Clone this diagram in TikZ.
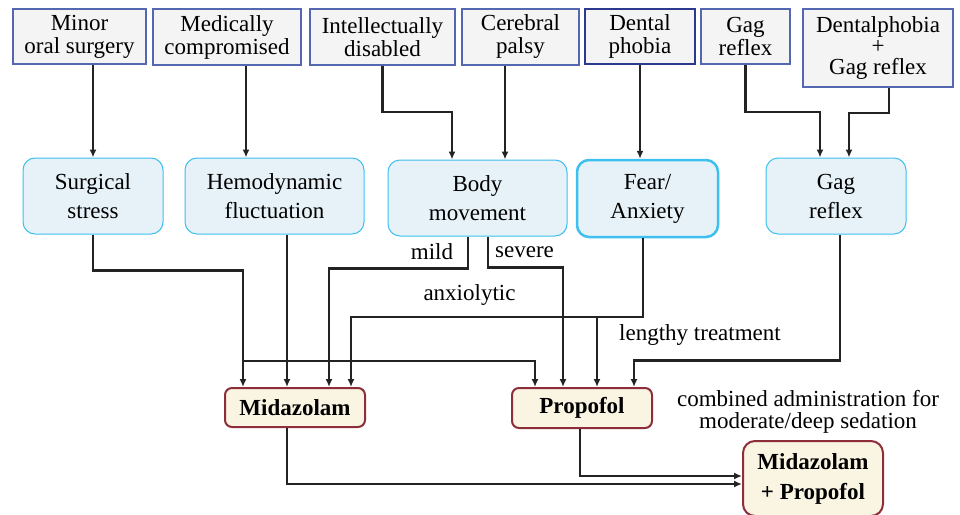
\documentclass[tikz,border=0pt]{standalone}
\usepackage{fontspec}
\setmainfont{LiberationSerif}[Extension=.ttf,UprightFont=*-Regular,BoldFont=*-Bold,ItalicFont=*-Italic]
\usetikzlibrary{positioning}
\usetikzlibrary{arrows.meta}

\definecolor{topfill}{HTML}{F4F4F4}
\definecolor{topline}{HTML}{5567B0}
\definecolor{navy}{HTML}{2B3A8F}
\definecolor{midfill}{HTML}{E6F2F7}
\definecolor{midline}{HTML}{3DBFEF}
\definecolor{drugfill}{HTML}{FAF4E2}
\definecolor{drugline}{HTML}{8E2E3A}
\definecolor{wire}{HTML}{232323}

\begin{document}
\begin{tikzpicture}[x=1pt,y=-1pt,
	font=\fontsize{23}{23}\selectfont,
	cause/.style={draw=topline,fill=topfill,line width=1.2pt,align=center,inner sep=0pt},
	problem/.style={draw=midline,fill=midfill,line width=1pt,rounded corners=12pt,align=center,inner sep=0pt,font=\fontsize{23}{29}\selectfont},
	drug/.style={draw=drugline,fill=drugfill,line width=2pt,rounded corners=7pt,align=center,inner sep=0pt,font=\fontsize{23}{30}\selectfont\bfseries},
	link/.style={line width=2.1pt,draw=wire},
	arr/.style={link,-{Latex[length=8pt,width=7pt]}}]
	\useasboundingbox (0,0) rectangle (960,514);
	% indications
	\node[cause,minimum width=133pt,minimum height=55pt] (minor) at (79.5,36.5) {Minor\\oral surgery};
	\node[cause,minimum width=148pt,minimum height=56pt] (medic) at (227,37) {Medically\\compromised};
	\node[cause,minimum width=145pt,minimum height=56pt] (intel) at (382.5,37) {Intellectually\\disabled};
	\node[cause,minimum width=117pt,minimum height=56pt] (palsy) at (520.5,37) {Cerebral\\palsy};
	\node[cause,draw=navy,line width=2.5pt,minimum width=110pt,minimum height=55pt] (phobia) at (640,36.5) {Dental\\phobia};
	\node[cause,minimum width=89pt,minimum height=55pt] (gag) at (745.5,36.5) {Gag\\reflex};
	\node[cause,minimum width=150pt,minimum height=78pt,font=\fontsize{23}{21}\selectfont] (phobgag) at (878,48) {Dentalphobia\\+\\Gag reflex};
	% problems
	\node[problem,minimum width=140pt,minimum height=76pt] (stress) at (93,196) {Surgical\\stress};
	\node[problem,minimum width=179pt,minimum height=76pt] (hemo) at (274.5,196) {Hemodynamic\\fluctuation};
	\node[problem,minimum width=179pt,minimum height=76pt] (move) at (477.5,198) {Body\\movement};
	\node[problem,line width=2.5pt,minimum width=141pt,minimum height=77pt] (fear) at (647.5,198.5) {Fear/\\Anxiety};
	\node[problem,minimum width=140pt,minimum height=76pt] (reflex) at (836,196) {Gag\\reflex};
	% drugs
	\node[drug,minimum width=140pt,minimum height=39pt] (mida) at (295,407.5) {Midazolam};
	\node[drug,minimum width=140pt,minimum height=40pt] (prop) at (582,408) {Propofol};
	\node[drug,rounded corners=12pt,minimum width=140pt,minimum height=75pt] (combo) at (813,478.5) {Midazolam\\+ Propofol};
	% labels
	\node (mild) at (432,252) {mild};
	\node (severe) at (524.5,252) {severe};
	\node (anxio) at (469.5,295) {anxiolytic};
	\node (lengthy) at (700,335) {lengthy treatment};
	\node[align=center,font=\fontsize{23}{22}\selectfont] (combined) at (808,412) {combined administration for\\moderate/deep sedation};
	% top -> middle
	\draw[arr] (minor.south -| stress.north) -- (stress.north);
	\draw[arr] ([xshift=19pt]medic.south) -- ([xshift=19pt]medic.south |- hemo.north);
	\draw[arr] (intel.south) -- ++(0,46) -| ([xshift=-25.5pt]move.north);
	\draw[arr] ([xshift=-15.5pt]palsy.south) -- ([xshift=-15.5pt]palsy.south |- move.north);
	\draw[arr] (phobia.south) -- (phobia.south |- fear.north);
	\draw[arr] (gag.south) -- ++(0,47) -| ([xshift=-16pt]reflex.north);
	\draw[arr] ([xshift=11pt]phobgag.south) -- ++(0,25) -| ([xshift=13pt]reflex.north);
	% middle -> drugs
	\coordinate (split) at (243,361);
	\coordinate (fork) at (597,316);
	\draw[arr] (stress.south) -- ++(0,36) -| ([xshift=-52pt]mida.north);
	\draw[arr] (split) -| ([xshift=-47pt]prop.north);
	\draw[arr] ([xshift=12.5pt]hemo.south) -- ([xshift=12.5pt]hemo.south |- mida.north);
	\draw[arr] ([xshift=-9.5pt]move.south) -- ++(0,32) -| ([xshift=34pt]mida.north);
	\draw[arr] ([xshift=10.5pt]move.south) -- ++(0,31) -| ([xshift=-19pt]prop.north);
	\draw[arr] ([xshift=-4.5pt]fear.south) -- ++(0,79) -| ([xshift=56pt]mida.north);
	\draw[arr] (fork) -- (fork |- prop.north);
	\draw[arr] ([xshift=4pt]reflex.south) -- ++(0,126) -| ([xshift=52pt]prop.north);
	% drugs -> combination
	\draw[arr] ([xshift=-8pt]mida.south) |- ([yshift=-5.5pt]combo.west);
	\draw[arr] ([xshift=-2pt]prop.south) |- ([yshift=2.5pt]combo.west);
\end{tikzpicture}
\end{document}
